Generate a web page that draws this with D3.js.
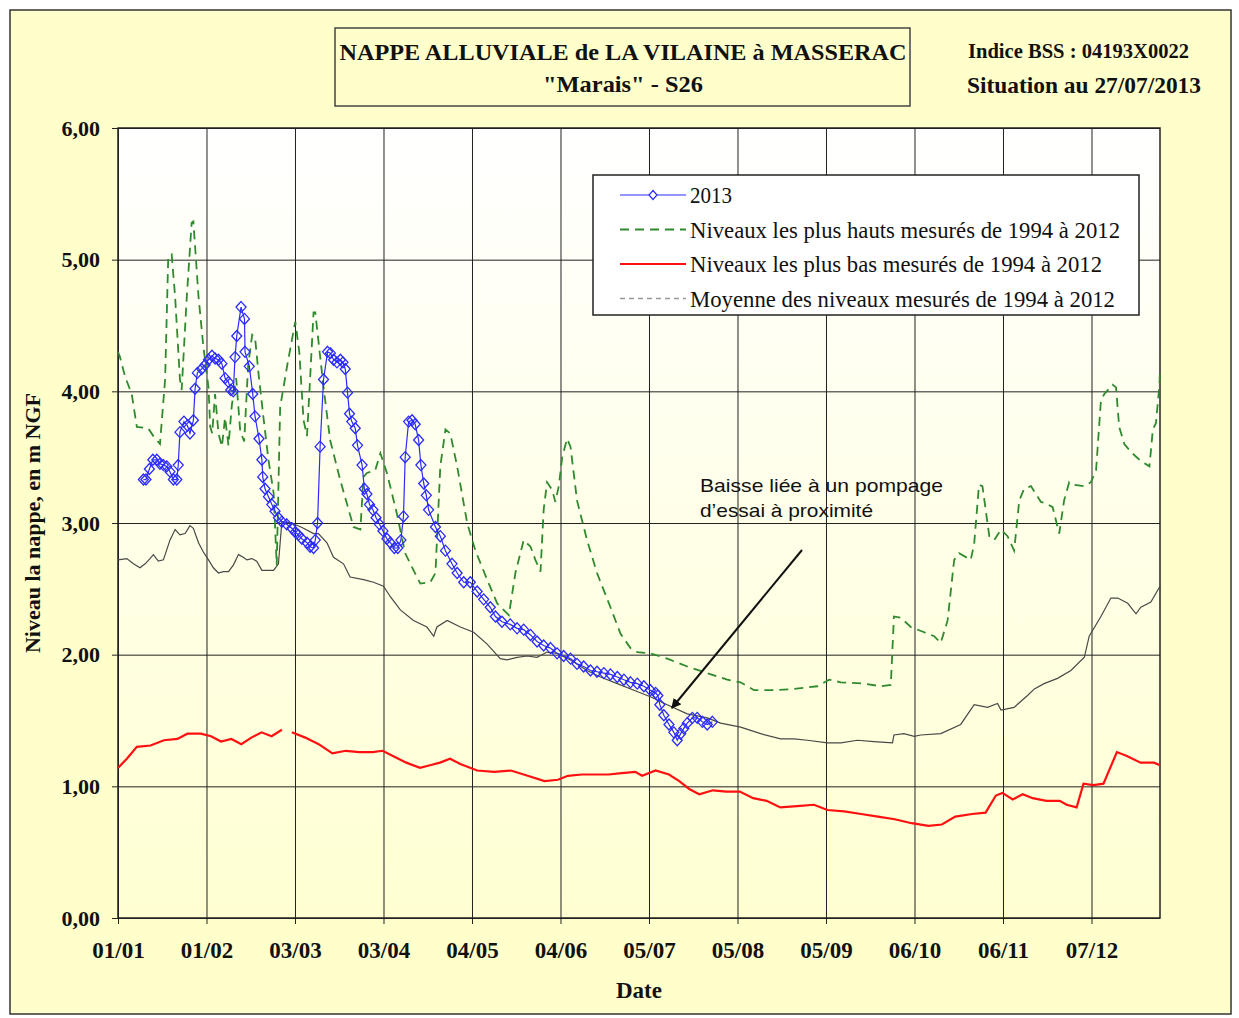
<!DOCTYPE html>
<head>
    <meta charset="utf-8">
    <title>Nappe alluviale de la Vilaine à Masserac</title>
    <style>
        body { margin: 0; background: #fff; }
        text { font-family: "Liberation Serif", "Times New Roman", serif; fill: #111; }
        .axis path { display: none; }
        .axis line { stroke: #222; }
        .grid line { stroke: #222; stroke-width: 1px; }
        .grid path { display: none; }
    </style>
</head>

<body>
    <script src="https://d3js.org/d3.v7.min.js"></script>
    <script>

        // ---- data (day = days since 1 Jan, value = m NGF) ----
        var serie2013 = [[8.9,3.33],[9.8,3.33],[11.0,3.41],[12.2,3.48],[13.6,3.48],[14.7,3.45],[15.9,3.44],[17.1,3.43],
            [18.2,3.39],[19.4,3.33],[20.6,3.33],[21.1,3.44],[21.7,3.69],[23.1,3.77],[24.3,3.74],[25.2,3.68],[26.4,3.78],
            [27.0,4.02],[27.8,4.14],[29.3,4.17],[30.5,4.20],[31.7,4.24],[32.9,4.27],[34.0,4.25],[35.2,4.24],[36.4,4.21],
            [37.5,4.10],[38.7,4.07],[39.5,4.01],[40.4,4.00],[41.0,4.26],[41.6,4.42],[43.1,4.64],[44.3,4.55],[44.5,4.30],
            [46.0,4.19],[47.2,3.98],[48.0,3.81],[49.4,3.64],[50.4,3.48],[50.7,3.35],[51.5,3.26],[52.7,3.20],[53.9,3.14],
            [55.0,3.09],[56.2,3.04],[57.4,3.01],[59.1,2.99],[60.9,2.96],[62.1,2.93],[63.2,2.91],[64.4,2.88],[66.2,2.85],
            [67.3,2.82],[68.5,2.81],[69.1,2.87],[69.9,3.00],[70.8,3.58],[72.0,4.09],[73.4,4.30],[74.4,4.29],[75.5,4.24],
            [76.7,4.22],[77.9,4.24],[78.8,4.22],[79.6,4.17],[80.4,3.99],[81.1,3.83],[81.9,3.77],[83.1,3.72],[83.9,3.59],
            [85.5,3.44],[86.3,3.26],[87.2,3.22],[88.1,3.14],[89.3,3.10],[90.4,3.04],[91.6,2.99],[92.8,2.94],[94.2,2.88],
            [95.4,2.85],[96.8,2.81],[98.0,2.81],[99.1,2.87],[100.0,3.05],[100.6,3.50],[101.8,3.77],[103.0,3.78],[104.1,3.75],
            [105.3,3.63],[106.1,3.44],[107.1,3.30],[108.0,3.21],[108.8,3.10],[111.2,2.97],[112.9,2.90],[114.7,2.79],
            [117.0,2.69],[118.8,2.62],[121.1,2.55],[123.4,2.55],[125.8,2.48],[128.1,2.42],[130.4,2.36],[132.2,2.29],
            [134.5,2.25],[137.4,2.23],[139.8,2.20],[142.1,2.19],[144.5,2.15],[146.8,2.10],[149.1,2.07],[151.5,2.05],
            [153.8,2.01],[156.1,1.99],[158.5,1.97],[160.8,1.93],[163.1,1.91],[165.5,1.88],[167.8,1.87],[170.2,1.86],
            [172.5,1.85],[174.9,1.83],[177.2,1.81],[179.5,1.79],[181.9,1.78],[184.2,1.76],[186.5,1.73],[188.3,1.71],
            [189.1,1.69],[189.8,1.62],[191.2,1.54],[193.0,1.47],[194.7,1.41],[195.9,1.35],[197.1,1.40],[198.2,1.44],
            [199.4,1.48],[201.2,1.52],[202.9,1.52],[204.7,1.49],[206.4,1.47],[208.2,1.49]];

        var plusHauts = [[0,4.30],[0.7,4.26],[2.5,4.11],[4.8,3.98],[6.6,3.73],[10.6,3.72],[12.4,3.66],[14.7,3.60],
            [16.5,4.09],[17.6,5.02],[18.8,5.04],[20.0,4.72],[21.7,4.09],[22.3,4.01],[24.1,4.72],[25.8,5.28],[26.4,5.29],
            [28.2,4.72],[29.9,4.34],[31.7,4.03],[32.3,3.73],[33.0,3.68],[34.0,3.98],[35.2,3.68],[36.4,3.58],[37.5,3.80],
            [38.7,3.59],[39.9,3.90],[41.4,4.10],[42.8,3.70],[44.2,3.62],[45.6,4.20],[47.0,4.43],[48.0,4.41],[49.2,4.14],
            [50.9,3.81],[52.7,3.48],[54.5,3.23],[55.6,2.68],[56.8,3.88],[59.3,4.20],[62.1,4.53],[63.5,4.30],[65.0,3.78],
            [66.2,3.66],[67.3,4.10],[68.5,4.60],[69.1,4.60],[72.0,4.03],[74.3,3.63],[77.8,3.33],[82.5,2.97],[84.9,2.95],
            [86.0,3.35],[87.2,3.38],[90.1,3.40],[91.9,3.53],[94.2,3.38],[97.7,3.07],[100.6,2.77],[104.7,2.59],[105.9,2.54],
            [109.4,2.55],[111.2,2.62],[112.9,3.43],[114.7,3.71],[116.4,3.68],[118.8,3.43],[122.3,3.00],[125.2,2.79],
            [129.3,2.57],[132.8,2.39],[136.9,2.30],[139.2,2.62],[142.1,2.87],[144.5,2.82],[146.2,2.72],[148.0,2.63],
            [149.1,3.10],[150.3,3.31],[152.1,3.25],[153.2,3.16],[154.4,3.28],[155.6,3.50],[157.3,3.64],[158.5,3.58],
            [160.8,3.17],[164.3,2.87],[167.8,2.62],[172.5,2.36],[176.0,2.16],[179.5,2.05],[181.9,2.02],[186.5,2.01],
            [192.4,1.97],[199.4,1.91],[206.4,1.86],[213.4,1.81],[218.1,1.79],[222.8,1.73],[229.8,1.73],[236.8,1.74],
            [245.0,1.76],[249.1,1.81],[253.2,1.79],[261.3,1.78],[267.2,1.76],[270.7,1.77],[271.8,2.29],[274.2,2.28],
            [277.7,2.21],[282.4,2.17],[285.9,2.14],[288.2,2.09],[290.6,2.26],[292.9,2.72],[294.6,2.77],[298.7,2.72],
            [299.9,2.84],[301.6,3.29],[302.8,3.28],[305.2,2.90],[306.9,2.87],[309.3,2.95],[311.6,2.90],[313.9,2.79],
            [315.7,3.17],[317.4,3.26],[319.8,3.28],[323.3,3.16],[325.0,3.15],[327.4,3.12],[329.7,2.92],[331.4,3.17],
            [333.2,3.31],[334.9,3.29],[338.5,3.28],[340.8,3.31],[342.6,3.40],[344.3,3.93],[345.5,3.98],[348.4,4.05],
            [349.6,4.03],[350.7,3.73],[352.5,3.60],[354.8,3.54],[358.3,3.47],[361.3,3.43],[362.5,3.71],[363.6,3.76],
            [364.8,4.05],[365,4.16]];

        var plusBas = [[0,1.14],[3.1,1.21],[6.6,1.30],[11.4,1.31],[16.1,1.35],[20.8,1.36],[24.3,1.40],[29.0,1.40],
            [32.6,1.38],[36.1,1.34],[39.7,1.36],[43.2,1.32],[46.7,1.37],[50.3,1.41],[53.8,1.38],[57.4,1.43],[59,null],
            [60.9,1.41],[65.6,1.37],[70.3,1.32],[75.1,1.25],[79.8,1.27],[84.5,1.26],[89.2,1.26],[92.7,1.27],[96.3,1.23],
            [101.0,1.18],[105.8,1.14],[109.3,1.16],[112.8,1.18],[116.3,1.21],[119.9,1.17],[125.8,1.12],[131.7,1.11],
            [137.6,1.12],[143.5,1.08],[149.4,1.04],[154.1,1.05],[157.6,1.08],[162.4,1.09],[167.1,1.09],[171.8,1.09],
            [176.5,1.10],[181.2,1.11],[183.6,1.08],[188.3,1.12],[193.0,1.09],[196.6,1.04],[200.1,0.98],[203.6,0.94],
            [208.4,0.97],[213.1,0.96],[217.8,0.96],[222.5,0.91],[227.2,0.89],[232.0,0.84],[237.9,0.85],[243.8,0.86],
            [248.5,0.82],[254.4,0.81],[260.3,0.79],[266.2,0.77],[272.1,0.75],[278.0,0.72],[283.9,0.70],[288.6,0.71],
            [293.3,0.77],[299.2,0.79],[303.9,0.80],[307.5,0.93],[309.8,0.95],[313.4,0.90],[316.9,0.94],[320.4,0.91],
            [325.2,0.89],[329.9,0.89],[332.3,0.86],[335.8,0.84],[338.2,1.02],[341.7,1.01],[345.2,1.02],[349.9,1.26],
            [353.4,1.23],[358.2,1.18],[362.9,1.18],[365,1.16]];

        var moyenne = [[0,2.72],[3.1,2.73],[5.4,2.69],[7.7,2.66],[9.5,2.69],[11.2,2.73],[12.4,2.76],[14.1,2.71],
            [15.9,2.72],[18.2,2.87],[20.0,2.95],[21.7,2.91],[23.5,2.92],[25.2,2.98],[26.4,2.96],[28.2,2.85],[29.9,2.78],
            [31.7,2.72],[33.4,2.66],[35.2,2.62],[36.9,2.63],[38.7,2.63],[40.4,2.68],[42.2,2.76],[43.9,2.74],[45.1,2.72],
            [46.9,2.73],[48.6,2.71],[50.4,2.64],[52.1,2.64],[54.5,2.64],[56.2,2.69],[57.4,3.01],[60.9,3.00],[65.0,2.96],
            [68.5,2.92],[70.2,2.92],[73.2,2.85],[75.5,2.74],[79.0,2.69],[81.3,2.59],[86.0,2.57],[89.5,2.55],[93.0,2.52],
            [95.4,2.44],[98.9,2.34],[103.5,2.26],[108.2,2.21],[110.6,2.14],[111.7,2.21],[115.3,2.26],[119.9,2.21],
            [124.6,2.17],[129.3,2.08],[133.9,1.97],[136.3,1.96],[139.8,1.98],[143.3,1.99],[146.8,1.98],[150.3,2.02],
            [153.8,2.01],[158.5,1.96],[164.3,1.88],[169.0,1.83],[174.9,1.78],[180.7,1.73],[186.5,1.68],[192.4,1.62],
            [199.4,1.55],[206.4,1.52],[211.1,1.48],[218.1,1.45],[225.1,1.40],[232.1,1.36],[236.8,1.36],[241.5,1.35],
            [248.5,1.33],[253.2,1.33],[259.0,1.35],[264.8,1.34],[271.3,1.33],[271.8,1.39],[275.3,1.40],[278.9,1.38],
            [281.2,1.39],[288.2,1.40],[295.2,1.47],[299.9,1.62],[304.6,1.60],[308.1,1.63],[309.3,1.58],[313.9,1.60],
            [318.6,1.69],[321.0,1.74],[324.4,1.78],[329.1,1.82],[333.8,1.88],[338.5,1.98],[340.2,2.14],[344.3,2.29],
            [347.8,2.43],[350.2,2.43],[353.7,2.39],[356.6,2.31],[358.3,2.36],[361.8,2.40],[365,2.52]];

        var yTicks = [0, 1, 2, 3, 4, 5, 6];
        var xTickDays = [0, 31, 62, 93, 124, 155, 186, 217, 248, 279, 310, 341];

        var legendLabels = ["2013",
            "Niveaux les plus hauts mesurés de 1994 à 2012",
            "Niveaux les plus bas mesurés de 1994 à 2012",
            "Moyenne des niveaux mesurés de 1994 à 2012"];

        var titleLines = ["NAPPE ALLUVIALE de LA VILAINE à MASSERAC", "\"Marais\" - S26"];
        var infoLines = ["Indice BSS : 04193X0022", "Situation au 27/07/2013"];
        var noteLines = ["Baisse liée à un pompage", "d\u2019essai à proximité"];
        // arrow from / to, in [day, value]
        var noteArrow = [[239.6, 2.795], [194.0, 1.595]];

        // ---- layout ----
        var width = 1239,
            height = 1018;
        var plot = { left: 118, right: 1160, top: 128, bottom: 918 };

        var start = Date.UTC(2012, 0, 1); // leap-year calendar, as in the original sheet
        function toDate(d) { return new Date(start + d * 864e5); }

        var x = d3.scaleUtc()
            .domain([toDate(0), toDate(365)])
            .range([plot.left, plot.right]);
        var y = d3.scaleLinear()
            .domain([0, 6])
            .range([plot.bottom, plot.top]);

        var svg = d3.select("body").append("svg")
            .attr("width", width)
            .attr("height", height);

        var defs = svg.append("defs");
        var grad = defs.append("linearGradient")
            .attr("id", "plotbg")
            .attr("x1", 0).attr("y1", 0).attr("x2", 0).attr("y2", 1);
        grad.append("stop").attr("offset", "0%").attr("stop-color", "#ffffff");
        grad.append("stop").attr("offset", "100%").attr("stop-color", "#ffffd2");

        defs.append("marker")
            .attr("id", "arrow")
            .attr("viewBox", "0 0 10 10")
            .attr("refX", 9).attr("refY", 5)
            .attr("markerWidth", 5).attr("markerHeight", 5)
            .attr("orient", "auto")
            .append("path")
            .attr("d", "M0,0L10,5L0,10Z")
            .attr("fill", "#111");

        // outer frame
        svg.append("rect")
            .attr("x", 10).attr("y", 10)
            .attr("width", 1221).attr("height", 1004)
            .attr("fill", "#ffffcc")
            .attr("stroke", "#333")
            .attr("stroke-width", 1.5);

        // plot area
        svg.append("rect")
            .attr("x", plot.left).attr("y", plot.top)
            .attr("width", plot.right - plot.left).attr("height", plot.bottom - plot.top)
            .attr("fill", "url(#plotbg)");

        // grid
        svg.append("g")
            .attr("class", "grid")
            .attr("transform", "translate(" + plot.left + ",0)")
            .call(d3.axisLeft(y).tickValues(yTicks).tickSize(-(plot.right - plot.left)).tickFormat(""));
        svg.append("g")
            .attr("class", "grid")
            .attr("transform", "translate(0," + plot.bottom + ")")
            .call(d3.axisBottom(x).tickValues(xTickDays.map(toDate)).tickSize(-(plot.bottom - plot.top)).tickFormat(""));

        // axes
        var yAxis = svg.append("g")
            .attr("class", "axis")
            .attr("transform", "translate(" + plot.left + ",0)")
            .call(d3.axisLeft(y).tickValues(yTicks).tickSize(6).tickPadding(12)
                .tickFormat(function (d) { return d3.format(".2f")(d).replace(".", ","); }));
        yAxis.selectAll("text")
            .style("font-size", "22px").style("font-weight", "bold")
            .style("font-family", "'Liberation Serif', serif").attr("fill", "#111");

        var xAxis = svg.append("g")
            .attr("class", "axis")
            .attr("transform", "translate(0," + plot.bottom + ")")
            .call(d3.axisBottom(x).tickValues(xTickDays.map(toDate)).tickSize(6).tickPadding(18)
                .tickFormat(d3.utcFormat("%d/%m")));
        xAxis.selectAll("text")
            .style("font-size", "23px").style("font-weight", "bold")
            .style("font-family", "'Liberation Serif', serif").attr("fill", "#111");

        // plot border
        svg.append("rect")
            .attr("x", plot.left).attr("y", plot.top)
            .attr("width", plot.right - plot.left).attr("height", plot.bottom - plot.top)
            .attr("fill", "none")
            .attr("stroke", "#222")
            .attr("stroke-width", 1.5);

        // ---- series ----
        var line = d3.line()
            .defined(function (d) { return d[1] !== null; })
            .x(function (d) { return x(toDate(d[0])); })
            .y(function (d) { return y(d[1]); });

        svg.append("path")
            .datum(moyenne)
            .attr("d", line)
            .attr("fill", "none")
            .attr("stroke", "#484848")
            .attr("stroke-width", 1.2);

        svg.append("path")
            .datum(plusHauts)
            .attr("d", line)
            .attr("fill", "none")
            .attr("stroke", "#2f8a2f")
            .attr("stroke-width", 1.8)
            .attr("stroke-dasharray", "9,6");

        svg.append("path")
            .datum(plusBas)
            .attr("d", line)
            .attr("fill", "none")
            .attr("stroke", "#ff1010")
            .attr("stroke-width", 2.2);

        svg.append("path")
            .datum(serie2013)
            .attr("d", line)
            .attr("fill", "none")
            .attr("stroke", "#2b2bff")
            .attr("stroke-width", 1.2);

        var diamond = "M0,-5.5L5,0L0,5.5L-5,0Z";
        svg.append("g")
            .selectAll("path")
            .data(serie2013)
            .enter().append("path")
            .attr("transform", function (d) { return "translate(" + x(toDate(d[0])) + "," + y(d[1]) + ")"; })
            .attr("d", diamond)
            .attr("fill", "none")
            .attr("stroke", "#2b2bff")
            .attr("stroke-width", 1.3);

        // ---- annotation ----
        svg.append("line")
            .attr("x1", x(toDate(noteArrow[0][0]))).attr("y1", y(noteArrow[0][1]))
            .attr("x2", x(toDate(noteArrow[1][0]))).attr("y2", y(noteArrow[1][1]))
            .attr("stroke", "#111")
            .attr("stroke-width", 2)
            .attr("marker-end", "url(#arrow)");

        var noteWidths = [243, 173];
        svg.selectAll(".note")
            .data(noteLines)
            .enter().append("text")
            .attr("class", "note")
            .attr("x", 700)
            .attr("y", function (d, i) { return 492 + i * 25; })
            .attr("textLength", function (d, i) { return noteWidths[i]; })
            .attr("lengthAdjust", "spacingAndGlyphs")
            .style("font-family", "'Liberation Sans', Arial, sans-serif")
            .style("font-size", "19px")
            .attr("fill", "#222")
            .text(function (d) { return d; });

        // ---- legend ----
        var legend = svg.append("g");
        legend.append("rect")
            .attr("x", 593).attr("y", 175)
            .attr("width", 546).attr("height", 140)
            .attr("fill", "#fff")
            .attr("stroke", "#222")
            .attr("stroke-width", 1.5);

        var legendStyles = [
            { color: "#2b2bff", dash: null, width: 1.2, marker: true, len: 42 },
            { color: "#2f8a2f", dash: "9,6", width: 1.8, len: 430 },
            { color: "#ff1010", dash: null, width: 2.2, len: 412 },
            { color: "#999", dash: "5,4", width: 1.5, len: 425 }
        ];
        legendLabels.forEach(function (label, i) {
            var ly = 195 + i * 34.5;
            var s = legendStyles[i];
            legend.append("line")
                .attr("x1", 620).attr("x2", 686)
                .attr("y1", ly).attr("y2", ly)
                .attr("stroke", s.color)
                .attr("stroke-width", s.width)
                .attr("stroke-dasharray", s.dash);
            if (s.marker) {
                legend.append("path")
                    .attr("transform", "translate(653," + ly + ")")
                    .attr("d", "M0,-4.5L4,0L0,4.5L-4,0Z")
                    .attr("fill", "#fff")
                    .attr("stroke", s.color)
                    .attr("stroke-width", 1.2);
            }
            legend.append("text")
                .attr("x", 690)
                .attr("y", ly + 8)
                .attr("textLength", s.len)
                .attr("lengthAdjust", "spacingAndGlyphs")
                .style("font-size", "23px")
                .text(label);
        });

        // ---- titles ----
        svg.append("rect")
            .attr("x", 335).attr("y", 28)
            .attr("width", 575).attr("height", 78)
            .attr("fill", "#ffffcc")
            .attr("stroke", "#444")
            .attr("stroke-width", 1.5);

        var titleWidths = [567, 160];
        svg.selectAll(".title")
            .data(titleLines)
            .enter().append("text")
            .attr("class", "title")
            .attr("x", 623)
            .attr("y", function (d, i) { return 60 + i * 32; })
            .attr("text-anchor", "middle")
            .attr("textLength", function (d, i) { return titleWidths[i]; })
            .attr("lengthAdjust", "spacingAndGlyphs")
            .style("font-size", "24px")
            .style("font-weight", "bold")
            .text(function (d) { return d; });

        svg.append("text")
            .attr("x", 968).attr("y", 58)
            .attr("textLength", 221)
            .attr("lengthAdjust", "spacingAndGlyphs")
            .style("font-size", "20px").style("font-weight", "bold")
            .text(infoLines[0]);
        svg.append("text")
            .attr("x", 967).attr("y", 93)
            .attr("textLength", 234)
            .attr("lengthAdjust", "spacingAndGlyphs")
            .style("font-size", "23px").style("font-weight", "bold")
            .text(infoLines[1]);

        svg.append("text")
            .attr("transform", "translate(40," + ((plot.top + plot.bottom) / 2) + ") rotate(-90)")
            .attr("text-anchor", "middle")
            .attr("textLength", 260)
            .attr("lengthAdjust", "spacingAndGlyphs")
            .style("font-size", "22px")
            .style("font-weight", "bold")
            .text("Niveau la nappe, en m NGF");

        svg.append("text")
            .attr("x", (plot.left + plot.right) / 2)
            .attr("y", 998)
            .attr("text-anchor", "middle")
            .style("font-size", "23px")
            .style("font-weight", "bold")
            .text("Date");

    </script>
</body>
